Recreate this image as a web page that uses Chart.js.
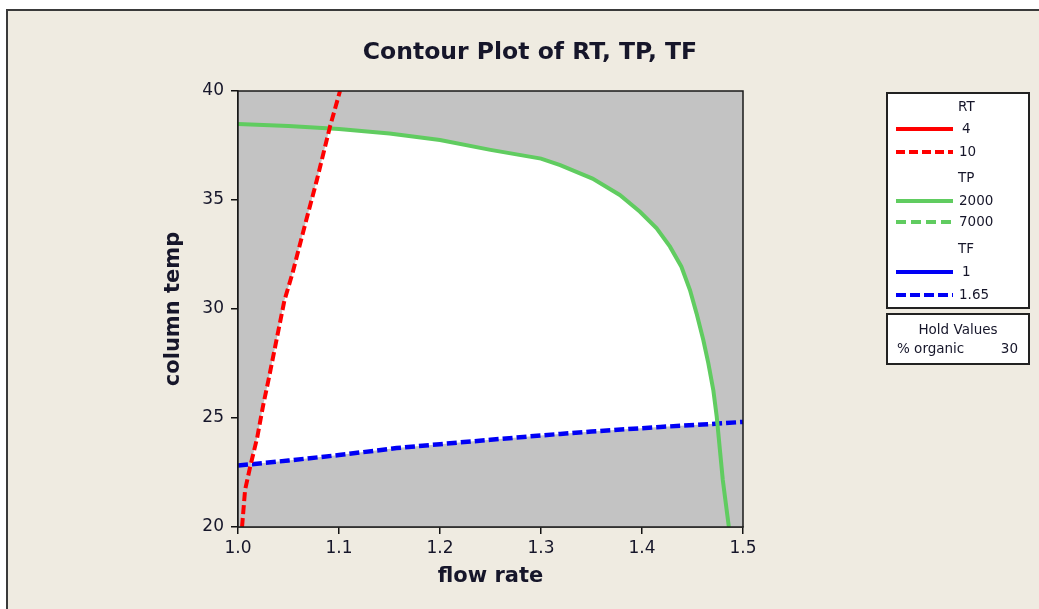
<!DOCTYPE html>
<html>
<head>
<meta charset="utf-8">
<script src="https://cdn.jsdelivr.net/npm/chart.js@4.4.1/dist/chart.umd.min.js"></script>
<style>
  html, body { margin: 0; padding: 0; background: #fff; }
  #wrap { width: 1039px; height: 609px; }
</style>
</head>
<body>
<div id="wrap"><canvas id="contour-chart" width="1039" height="609"></canvas></div>
<script>
// contour lines (flow rate, column temp)
const rt10Flow = [1.004, 1.007, 1.012, 1.019, 1.025, 1.030, 1.046, 1.054, 1.066, 1.078, 1.091, 1.101];
const rt10Temp = [20.0, 21.7, 22.75, 24.1, 25.6, 26.7, 30.4, 31.65, 33.8, 35.9, 38.35, 40.0];

const tpFlow = [1.0, 1.05, 1.1, 1.15, 1.2, 1.25, 1.3, 1.319, 1.351, 1.378, 1.398, 1.4145, 1.4277, 1.439, 1.4475, 1.454, 1.4607, 1.4657, 1.4706, 1.474, 1.477, 1.480, 1.486];
const tpTemp = [38.49, 38.4, 38.26, 38.05, 37.75, 37.3, 36.9, 36.6, 35.98, 35.23, 34.46, 33.7, 32.86, 31.94, 30.87, 29.8, 28.58, 27.51, 26.28, 25.06, 23.6, 22.16, 20.0];

const tfFlow = [1.0, 1.05, 1.1, 1.157, 1.2, 1.25, 1.3, 1.319, 1.35, 1.418, 1.46, 1.5];
const tfTemp = [22.82, 23.05, 23.3, 23.62, 23.8, 24.0, 24.2, 24.27, 24.38, 24.59, 24.7, 24.82];

const legendGroups = ['RT', 'TP', 'TF'];
const rtLevels = ['4', '10'];
const tpLevels = ['2000', '7000'];
const tfLevels = ['1', '1.65'];
const holdLabel = '% organic';
const holdValue = '30';

const xTicks = [1.0, 1.1, 1.2, 1.3, 1.4, 1.5];
const yTicks = [20, 25, 30, 35, 40];

const toPoints = (xs, ys) => xs.map((x, i) => ({ x: x, y: ys[i] }));

const rtLine = toPoints(rt10Flow, rt10Temp);
const tpLine = toPoints(tpFlow, tpTemp);
const tfLine = toPoints(tfFlow, tfTemp);

// first place where polyline a crosses polyline b
function crossing(a, b) {
    for (let i = 0; i < a.length - 1; i++) {
        for (let j = 0; j < b.length - 1; j++) {
            const p = a[i], r = { x: a[i + 1].x - p.x, y: a[i + 1].y - p.y };
            const q = b[j], s = { x: b[j + 1].x - q.x, y: b[j + 1].y - q.y };
            const d = r.x * s.y - r.y * s.x;
            if (d === 0) continue;
            const t = ((q.x - p.x) * s.y - (q.y - p.y) * s.x) / d;
            const u = ((q.x - p.x) * r.y - (q.y - p.y) * r.x) / d;
            if (t >= 0 && t <= 1 && u >= 0 && u <= 1) {
                return { i: i, j: j, pt: { x: p.x + t * r.x, y: p.y + t * r.y } };
            }
        }
    }
    return null;
}

// white feasible region bounded by the three contours
const rb = crossing(rtLine, tfLine);
const rg = crossing(rtLine, tpLine);
const gb = crossing(tpLine, tfLine);
const region = [rb.pt]
    .concat(rtLine.slice(rb.i + 1, rg.i + 1))
    .concat([rg.pt])
    .concat(tpLine.slice(rg.j + 1, gb.i + 1))
    .concat([gb.pt])
    .concat(tfLine.slice(rb.j + 1, gb.j + 1).reverse());

const RED = '#ff0000', GREEN = '#60cc60', BLUE = '#0000f5';
const INK = '#16162a';
const BASE_FONT = '"DejaVu Sans", Verdana, sans-serif';

const datasets = [
    { label: rtLevels[0], group: legendGroups[0], data: [], borderColor: RED, borderWidth: 4 },
    { label: rtLevels[1], group: legendGroups[0], data: rtLine, borderColor: RED, borderWidth: 4, borderDash: [9, 4] },
    { label: tpLevels[0], group: legendGroups[1], data: tpLine, borderColor: GREEN, borderWidth: 4 },
    { label: tpLevels[1], group: legendGroups[1], data: [], borderColor: GREEN, borderWidth: 4, borderDash: [10, 5] },
    { label: tfLevels[0], group: legendGroups[2], data: [], borderColor: BLUE, borderWidth: 4.5 },
    { label: tfLevels[1], group: legendGroups[2], data: tfLine, borderColor: BLUE, borderWidth: 4.5, borderDash: [10, 4] },
    { label: 'region', data: region, borderWidth: 0, borderColor: 'rgba(0,0,0,0)', backgroundColor: '#ffffff', fill: 'shape' }
];
datasets.forEach(ds => {
    ds.showLine = true;
    ds.pointRadius = 0;
    ds.pointHoverRadius = 0;
    ds.tension = 0;
    if (!ds.fill) ds.fill = false;
});

const framePlugin = {
    id: 'frame',
    beforeDraw(chart) {
        const ctx = chart.ctx;
        ctx.save();
        ctx.fillStyle = '#ffffff';
        ctx.fillRect(0, 0, chart.width, chart.height);
        ctx.fillStyle = '#efebe1';
        ctx.fillRect(6, 9, chart.width, chart.height);
        ctx.strokeStyle = '#3a3a3a';
        ctx.lineWidth = 2;
        ctx.beginPath();
        ctx.moveTo(7, chart.height);
        ctx.lineTo(7, 10);
        ctx.lineTo(chart.width, 10);
        ctx.stroke();

        ctx.fillStyle = INK;
        ctx.font = 'bold 23.5px ' + BASE_FONT;
        ctx.textAlign = 'center';
        ctx.textBaseline = 'middle';
        ctx.fillText('Contour Plot of RT, TP, TF', 530, 53);
        ctx.restore();
    },
    beforeDatasetsDraw(chart) {
        const a = chart.chartArea;
        const ctx = chart.ctx;
        ctx.save();
        ctx.fillStyle = '#c3c3c3';
        ctx.fillRect(a.left, a.top, a.right - a.left, a.bottom - a.top);
        ctx.restore();
    },
    afterDraw(chart) {
        const a = chart.chartArea;
        const ctx = chart.ctx;
        ctx.save();
        ctx.strokeStyle = '#1a1a1a';
        ctx.lineWidth = 1.5;
        ctx.strokeRect(a.left, a.top, a.right - a.left, a.bottom - a.top);
        ctx.restore();
    }
};

// grouped legend box plus the hold values box
const contourLegend = {
    id: 'contourLegend',
    afterDraw(chart) {
        const ctx = chart.ctx;
        ctx.save();
        ctx.strokeStyle = '#222';
        ctx.lineWidth = 2;
        ctx.fillStyle = '#ffffff';
        ctx.fillRect(887, 93, 142, 215);
        ctx.strokeRect(887, 93, 142, 215);
        ctx.fillRect(887, 314, 142, 50);
        ctx.strokeRect(887, 314, 142, 50);

        ctx.font = '13.5px ' + BASE_FONT;
        ctx.fillStyle = INK;
        ctx.textBaseline = 'middle';
        const headY = [107, 178, 249];
        const rowY = [[129, 152], [201, 222], [272, 295]];
        legendGroups.forEach((g, gi) => {
            ctx.textAlign = 'left';
            ctx.fillText(g, 958, headY[gi]);
            const members = chart.data.datasets.filter(d => d.group === g);
            members.forEach((ds, k) => {
                const y = rowY[gi][k];
                ctx.strokeStyle = ds.borderColor;
                ctx.lineWidth = 4;
                ctx.setLineDash(ds.borderDash || []);
                ctx.beginPath();
                ctx.moveTo(896, y);
                ctx.lineTo(953, y);
                ctx.stroke();
                ctx.setLineDash([]);
                ctx.fillText(ds.label, ds.label.length === 1 ? 962 : 959, y);
            });
        });

        ctx.textAlign = 'center';
        ctx.fillText('Hold Values', 958, 330);
        ctx.textAlign = 'left';
        ctx.fillText(holdLabel, 897, 349);
        ctx.textAlign = 'right';
        ctx.fillText(holdValue, 1018, 349);
        ctx.restore();
    }
};

const tickFont = { family: BASE_FONT, size: 17 };
const titleFont = { family: BASE_FONT, size: 21, weight: 'bold' };

const config = {
    type: 'scatter',
    data: { datasets: datasets },
    options: {
        responsive: false,
        animation: false,
        events: [],
        layout: { padding: { left: 0, top: 91, right: 296, bottom: 0 } },
        plugins: {
            legend: { display: false },
            tooltip: { enabled: false },
            title: { display: false }
        },
        scales: {
            x: {
                type: 'linear',
                position: 'bottom',
                min: xTicks[0],
                max: xTicks[xTicks.length - 1],
                afterBuildTicks: s => { s.ticks = xTicks.map(v => ({ value: v })); },
                afterFit: s => { s.height = 82; },
                ticks: { font: tickFont, color: INK, padding: 4, maxRotation: 0, callback: v => v.toFixed(1) },
                grid: { drawOnChartArea: false, drawTicks: true, tickLength: 7, color: '#111', lineWidth: 1.5 },
                border: { display: true, color: '#111', width: 1.5 },
                title: { display: true, text: 'flow rate', color: INK, font: titleFont, padding: { top: 0, bottom: 20 } }
            },
            y: {
                type: 'linear',
                position: 'left',
                min: yTicks[0],
                max: yTicks[yTicks.length - 1],
                afterBuildTicks: s => { s.ticks = yTicks.map(v => ({ value: v })); },
                afterFit: s => { s.width = 238; },
                ticks: { font: tickFont, color: INK, padding: 7 },
                grid: { drawOnChartArea: false, drawTicks: true, tickLength: 7, color: '#111', lineWidth: 1.5 },
                border: { display: true, color: '#111', width: 1.5 },
                title: { display: true, text: 'column temp', color: INK, font: titleFont, padding: { top: 161, bottom: 0 } }
            }
        }
    },
    plugins: [framePlugin, contourLegend]
};

new Chart(document.getElementById('contour-chart'), config);
</script>
</body>
</html>
